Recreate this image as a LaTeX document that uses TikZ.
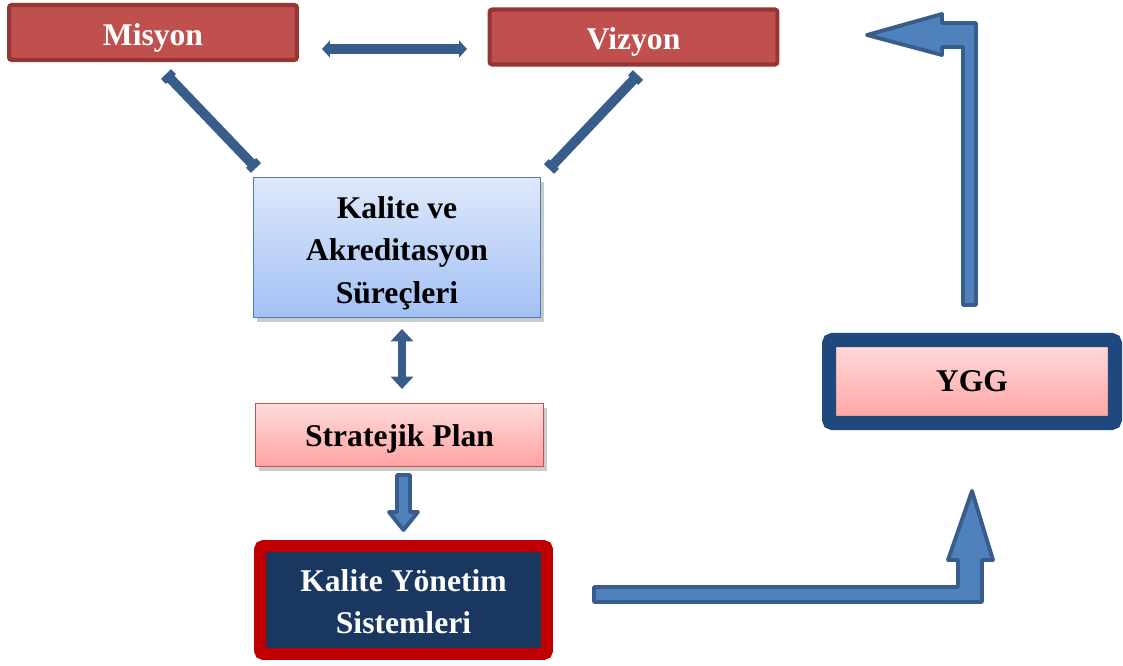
\documentclass[tikz,border=0pt]{standalone}
\usepackage{fontspec}
\setmainfont{Liberation Serif}
\usetikzlibrary{arrows.meta,shadows}

\definecolor{misred}{HTML}{C0504D}
\definecolor{misline}{HTML}{943634}
\definecolor{arrfill}{HTML}{4F81BD}
\definecolor{arrline}{HTML}{385D8A}
\definecolor{kaltop}{HTML}{DEE8FA}
\definecolor{kalbot}{HTML}{A3C1F6}
\definecolor{kalline}{HTML}{4A7EBB}
\definecolor{pinktop}{HTML}{FFDCDC}
\definecolor{pinkbot}{HTML}{FFA2A2}
\definecolor{kysfill}{HTML}{1A3760}
\definecolor{kysline}{HTML}{C00000}
\definecolor{yggline}{HTML}{1F497D}

% invisible strut, pushes the first line of a box down a little
\newcommand{\lift}[1]{\rule{0pt}{#1}}

\begin{document}
\begin{tikzpicture}[x=0.02cm, y=-0.02cm]
\tikzstyle{every node}+=[inner sep=0pt, align=center, font=\fontsize{18}{24}\selectfont\bfseries]
\tikzstyle{shade}=[drop shadow={shadow xshift=2pt, shadow yshift=-2.5pt, opacity=0.35, fill=black!60}]
\tikzstyle{redbox}=[draw=misline, fill=misred, line width=2.3pt, rounded corners=1.5pt, text=white, minimum width=5.76cm, minimum height=1.1cm]
\tikzstyle{bluebox}=[shade, draw=kalline, line width=0.8pt, top color=kaltop, bottom color=kalbot, minimum width=5.73cm, minimum height=2.79cm]
\tikzstyle{pinkbox}=[shade, draw=misred, line width=0.8pt, top color=pinktop, bottom color=pinkbot, minimum width=5.75cm, minimum height=1.25cm]
\tikzstyle{kysbox}=[shade, draw=kysline, fill=kysfill, line width=6.8pt, rounded corners=2pt, text=white, minimum width=5.74cm, minimum height=2.16cm]
\tikzstyle{yggbox}=[shade, draw=yggline, line width=8pt, rounded corners=2pt, top color=pinktop, bottom color=pinkbot, minimum width=5.72cm, minimum height=1.66cm]
\tikzstyle{link}=[draw=arrline, line width=5.5pt]
\tikzstyle{blockarrow}=[fill=arrfill, draw=arrline, line width=2.2pt, line join=round]
\useasboundingbox (0,0) rectangle (1123,666);

% boxes
\node [redbox] (mis) at (153,32.5) {\lift{18.5pt}Misyon};
\node [redbox] (viz) at (633.5,37) {\lift{18.5pt}Vizyon};
\node [bluebox] (kal) at (397,247.5) {\lift{19pt}Kalite ve\\Akreditasyon\\Süreçleri};
\node [pinkbox] (str) at (399.5,435) {\lift{17pt}Stratejik Plan};
\node [kysbox] (kys) at (403.5,600) {\lift{14.5pt}Kalite Yönetim\\Sistemleri};
\node [yggbox] (ygg) at (972,381.5) {YGG};

% free ends of the connectors
\coordinate (mv1) at (322,49);
\coordinate (mv2) at (467,49);
\coordinate (mk1) at (166,74);
\coordinate (mk2) at (256,168);
\coordinate (vk1) at (638,75);
\coordinate (vk2) at (549,169);
\coordinate (ks1) at (402,329);
\coordinate (ks2) at (402,389);

% connectors
\draw [link, {Triangle[length=4.5pt,width=9.5pt]}-{Triangle[length=4.5pt,width=9.5pt]}] (mv1) -- (mv2);
\draw [link, {Square[length=4pt,width=8pt]}-{Square[length=4pt,width=8pt]}] (mk1) -- (mk2);
\draw [link, {Square[length=4pt,width=8pt]}-{Square[length=4pt,width=8pt]}] (vk1) -- (vk2);
\draw [link, line width=4.5pt, {Triangle[length=7pt,width=12.5pt]}-{Triangle[length=7pt,width=12.5pt]}] (ks1) -- (ks2);

% block arrows
\draw [blockarrow] (397,475) -- (410,475) -- (410,512) -- (418,512) -- (403.5,530) -- (389,512) -- (397,512) -- cycle;
\draw [blockarrow] (594,587) -- (958,587) -- (958,560) -- (948,560) -- (972,491) -- (993,560) -- (982,560) -- (982,602) -- (594,602) -- cycle;
\draw [blockarrow] (976,305) -- (976,23) -- (942,23) -- (942,14) -- (867,35) -- (942,55) -- (942,47) -- (963,47) -- (963,305) -- cycle;
\end{tikzpicture}
\end{document}
